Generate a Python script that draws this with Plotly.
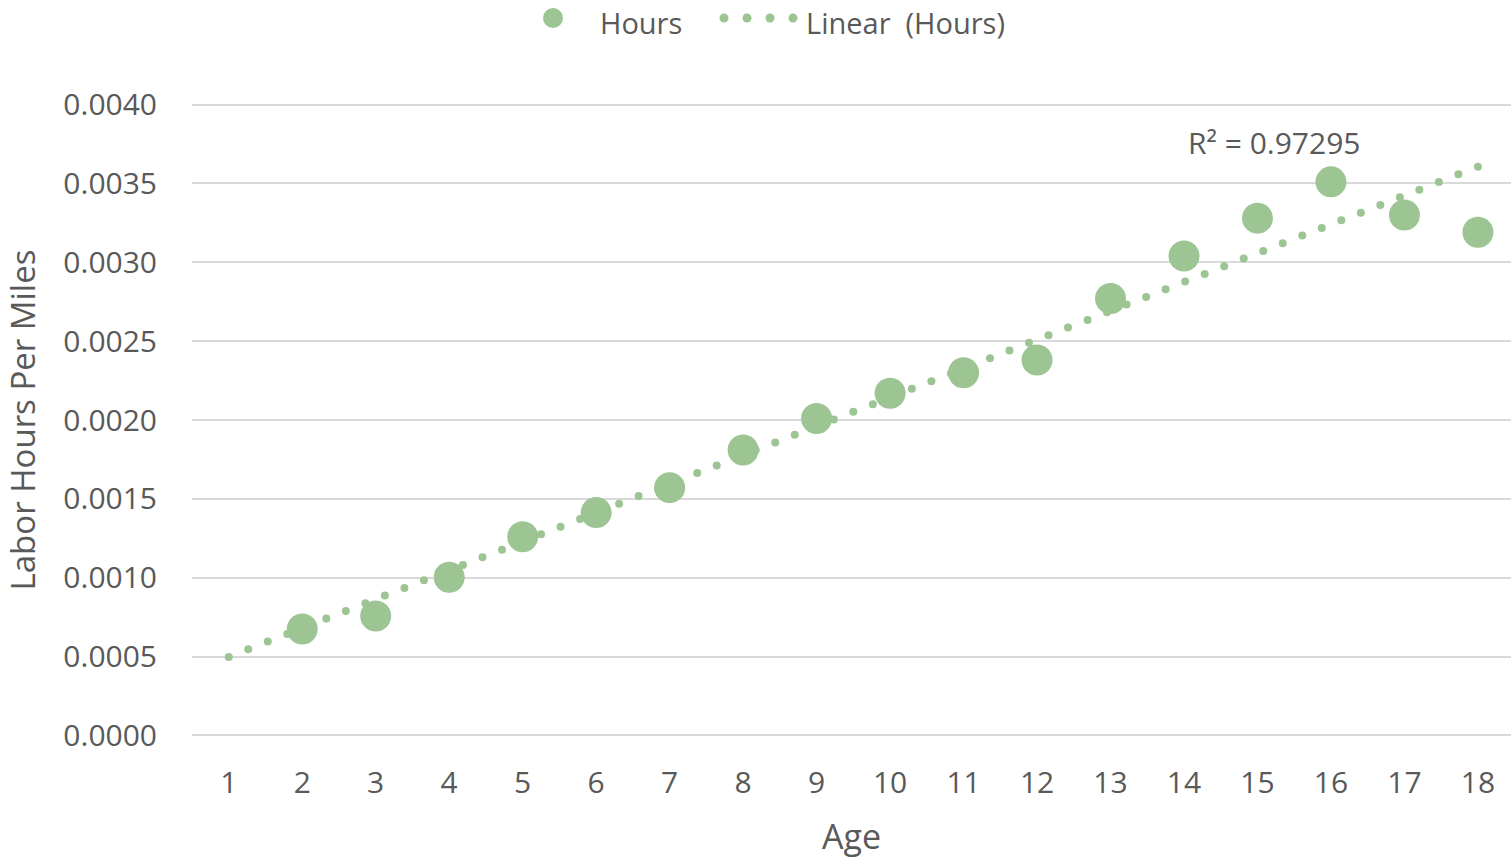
import numpy as np
import plotly.graph_objects as go

ages = [2, 3, 4, 5, 6, 7, 8, 9, 10, 11, 12, 13, 14, 15, 16, 17, 18]
hours = [0.000675, 0.000757, 0.001003, 0.00126, 0.001413, 0.001571, 0.00181,
         0.00201, 0.00217, 0.0023, 0.00238, 0.00277, 0.00304, 0.00328, 0.00351,
         0.0033, 0.00319]
x_ticks = list(range(1, 19))
y_ticks = [0.0, 0.0005, 0.0010, 0.0015, 0.0020, 0.0025, 0.0030, 0.0035, 0.0040]
r2_label = "R² = 0.97295"
legend_names = ["Hours", "Linear  (Hours)"]

GREEN = "#9DC594"
TEXT = "#595959"
FONT = "Open Sans"

W, H = 1511, 861
ML, MT, MB = 192, 103, 124
PW = W - ML
PH = H - MT - MB

# linear trendline fit (Excel-like), drawn from x=1 to x=18 as round dots
slope, intercept = np.polyfit(ages, hours, 1)
tx = np.linspace(1, 18, 65)
ty = slope * tx + intercept

fig = go.Figure()
fig.add_trace(go.Scatter(
    x=ages, y=hours, mode="markers", name=legend_names[0], showlegend=False,
    marker=dict(color=GREEN, size=31, line=dict(width=0)),
))
fig.add_trace(go.Scatter(
    x=tx, y=ty, mode="markers", name=legend_names[1], showlegend=False,
    marker=dict(color=GREEN, size=8, line=dict(width=0)),
))

fig.add_annotation(x=15.23, y=0.00376, text=r2_label, showarrow=False,
                   font=dict(family=FONT, size=30, color=TEXT),
                   xref="x", yref="y")


# custom legend (Excel style) in paper coordinates
def px_x(p):
    return (p - ML) / PW


def px_y(p):
    return 1 + (MT - p) / PH


sym_y = px_y(18)
txt_y = px_y(23)
fig.add_shape(type="circle", xref="paper", yref="paper", xsizemode="pixel", ysizemode="pixel",
              xanchor=px_x(553), yanchor=sym_y, x0=-10, x1=10, y0=-10, y1=10,
              fillcolor=GREEN, line=dict(width=0))
for dx in [724, 747, 770, 793]:
    fig.add_shape(type="circle", xref="paper", yref="paper", xsizemode="pixel", ysizemode="pixel",
                  xanchor=px_x(dx), yanchor=sym_y, x0=-4.5, x1=4.5, y0=-4.5, y1=4.5,
                  fillcolor=GREEN, line=dict(width=0))
fig.add_annotation(x=px_x(598), y=txt_y, xref="paper", yref="paper", text=legend_names[0],
                   showarrow=False, xanchor="left", yanchor="middle",
                   font=dict(family=FONT, size=29, color=TEXT))
fig.add_annotation(x=px_x(804), y=txt_y, xref="paper", yref="paper", text=legend_names[1],
                   showarrow=False, xanchor="left", yanchor="middle",
                   font=dict(family=FONT, size=29, color=TEXT))

fig.update_layout(
    width=W, height=H,
    margin=dict(l=ML, r=0, t=MT, b=MB),
    plot_bgcolor="white", paper_bgcolor="white",
    font=dict(family=FONT, color=TEXT, size=30),
    showlegend=False,
    xaxis=dict(range=[0.5, 18.45], tickmode="array", tickvals=x_ticks,
               ticktext=[str(v) for v in x_ticks], showgrid=False, zeroline=False,
               showline=False, ticks="outside", ticklen=19, tickcolor="rgba(0,0,0,0)",
               tickfont=dict(family=FONT, size=30, color=TEXT),
               title=dict(text="Age", font=dict(family=FONT, size=34, color=TEXT), standoff=24)),
    yaxis=dict(range=[-0.00001, 0.00401], tickmode="array", tickvals=y_ticks,
               ticktext=[f"{v:.4f}" for v in y_ticks], showgrid=True, gridcolor="#D9D9D9",
               gridwidth=2, zeroline=False, showline=False, ticks="outside", ticklen=28,
               tickcolor="rgba(0,0,0,0)", tickfont=dict(family=FONT, size=30, color=TEXT),
               title=dict(text="Labor Hours Per Miles", font=dict(family=FONT, size=33, color=TEXT),
                          standoff=18)),
)

fig.write_html("out.html", config={"displayModeBar": False},
               post_script="document.body.style.margin='0';document.body.style.overflow='hidden';")
